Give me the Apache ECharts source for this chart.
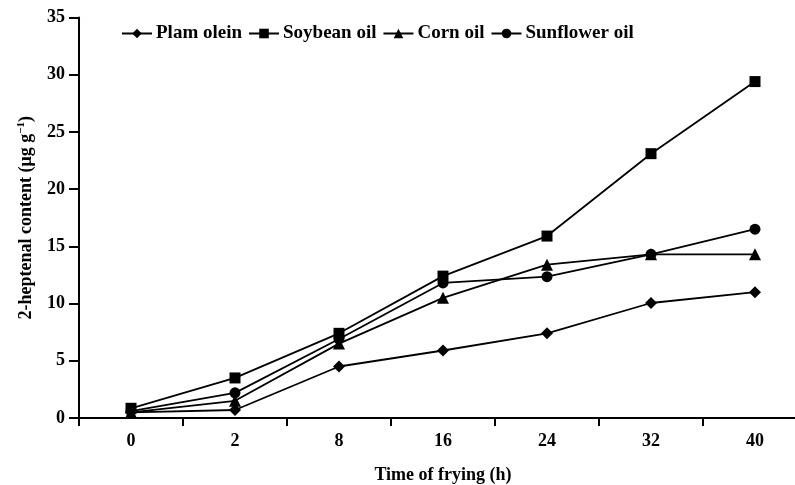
<!DOCTYPE html>
<html><head><meta charset="utf-8">
<script src="https://cdn.jsdelivr.net/npm/echarts@6/dist/echarts.min.js"></script>
<style>html,body{margin:0;padding:0;background:#fff}#c{width:795px;height:485px}</style>
</head><body><div id="c"></div>
<script>
const categories = ['0','2','8','16','24','32','40'];
const plamOlein = [0.5, 0.7, 4.5, 5.9, 7.4, 10.05, 11.0];
const soybeanOil = [0.85, 3.5, 7.4, 12.4, 15.9, 23.1, 29.4];
const cornOil = [0.5, 1.5, 6.5, 10.5, 13.4, 14.3, 14.3];
const sunflowerOil = [0.6, 2.2, 6.9, 11.8, 12.35, 14.3, 16.5];
const yTicks = {min: 0, max: 35, interval: 5};

const font = 'Liberation Serif';
const chart = echarts.init(document.getElementById('c'));
function s(name, data, symbol, size) {
  return {name, type:'line', data, symbol, symbolSize:size,
    lineStyle:{color:'#000', width:1.8}, itemStyle:{color:'#000'},
    showSymbol:true, animation:false};
}
chart.setOption({
  animation:false,
  grid:{left:79, top:17.5, height:400.5, width:728, containLabel:false, outerBoundsMode:'none'},
  legend:{left:116, top:19, itemWidth:30, itemHeight:12, itemGap:6,
    textStyle:{fontFamily:font, fontWeight:'bold', fontSize:19, color:'#000', padding:[0,0,0,-1]},
    data:['Plam olein','Soybean oil','Corn oil','Sunflower oil']},
  xAxis:{type:'category', data:categories, boundaryGap:true,
    name:'Time of frying (h)', nameLocation:'middle', nameGap:48,
    nameTextStyle:{fontFamily:font, fontWeight:'bold', fontSize:18, color:'#000'},
    axisLine:{lineStyle:{color:'#000', width:2}},
    axisTick:{show:true, length:8, lineStyle:{color:'#000', width:2}},
    axisLabel:{fontFamily:font, fontWeight:'bold', fontSize:18, color:'#000', margin:14}},
  yAxis:{type:'value', min:yTicks.min, max:yTicks.max, interval:yTicks.interval,
    name:'2-heptenal content (μg g{sup|−1})', nameLocation:'middle', nameGap:43,
    nameTextStyle:{fontFamily:font, fontWeight:'bold', fontSize:18, color:'#000',
      rich:{sup:{fontFamily:font, fontWeight:'bold', fontSize:11, color:'#000', verticalAlign:'top', padding:[0,0,9,0]}}},
    splitLine:{show:false},
    axisLine:{show:true, lineStyle:{color:'#000', width:2}},
    axisTick:{show:true, length:10, lineStyle:{color:'#000', width:2}},
    axisLabel:{fontFamily:font, fontWeight:'bold', fontSize:18, color:'#000', margin:14}},
  series:[
    s('Plam olein', plamOlein, 'diamond', 12),
    s('Soybean oil', soybeanOil, 'rect', 11),
    s('Corn oil', cornOil, 'triangle', 12),
    s('Sunflower oil', sunflowerOil, 'circle', 11)
  ]
});
</script></body></html>
